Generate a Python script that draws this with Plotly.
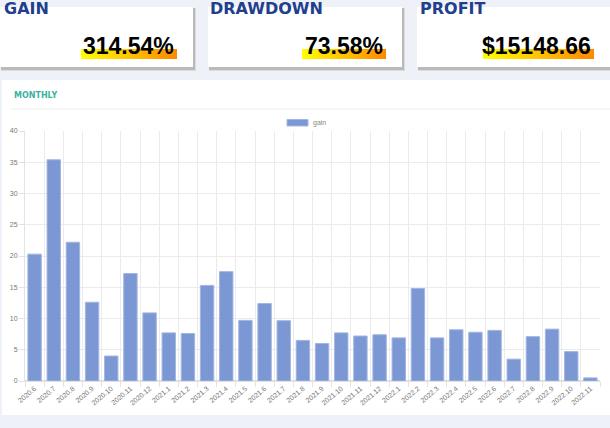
import base64
import plotly.graph_objects as go

months = ["2020.6", "2020.7", "2020.8", "2020.9", "2020.10", "2020.11", "2020.12",
          "2021.1", "2021.2", "2021.3", "2021.4", "2021.5", "2021.6", "2021.7",
          "2021.8", "2021.9", "2021.10", "2021.11", "2021.12",
          "2022.1", "2022.2", "2022.3", "2022.4", "2022.5", "2022.6", "2022.7",
          "2022.8", "2022.9", "2022.10", "2022.11"]
gain = [20.3, 35.4, 22.2, 12.6, 4.0, 17.2, 10.9,
        7.7, 7.6, 15.3, 17.5, 9.7, 12.4, 9.65,
        6.5, 6.0, 7.7, 7.2, 7.4,
        6.9, 14.8, 6.9, 8.2, 7.8, 8.1, 3.5,
        7.1, 8.3, 4.7, 0.5]

card_titles = ["GAIN", "DRAWDOWN", "PROFIT"]
card_values = ["314.54%", "73.58%", "$15148.66"]

W, H = 610, 428
L, R, T, B = 25, 10, 131, 47
PW, PH = W - L - R, H - T - B


def px(x):
    return (x - L) / PW


def py(y):
    return (T + PH - y) / PH


shapes = []


def rect(x0, y0, x1, y1, color, layer="below", line=None):
    shapes.append(dict(type="rect", xref="paper", yref="paper",
                       x0=px(x0), x1=px(x1), y0=py(y1), y1=py(y0),
                       fillcolor=color, layer=layer,
                       line=dict(width=0) if line is None else line))


# chart panel
rect(2, 80, 612, 415, "#ffffff")
shapes.append(dict(type="line", xref="paper", yref="paper", x0=px(11), x1=px(612),
                   y0=py(109), y1=py(109), line=dict(color="#eeeeee", width=1), layer="below"))

cards = [(0, 193), (208, 402), (417, 625)]
for x0, x1 in cards:
    rect(x0 + 1, 8, x1 + 3, 71, "#dcdcdc")
    rect(x0 + 1, 8, x1 + 2, 70, "#b9b9b9")
    rect(x0, 7, x1, 67, "#ffffff")

# legend swatch
rect(287, 119.5, 308, 126, "#7b98d4", line=dict(color="#a3b6e2", width=1))

svg = ('<svg xmlns="http://www.w3.org/2000/svg" width="100" height="10" preserveAspectRatio="none">'
       '<defs><linearGradient id="g" x1="0" y1="0" x2="1" y2="0">'
       '<stop offset="0" stop-color="#ffff00"/><stop offset="1" stop-color="#ff8800"/>'
       '</linearGradient></defs><rect width="100" height="10" fill="url(#g)"/></svg>')
src = "data:image/svg+xml;base64," + base64.b64encode(svg.encode()).decode()

grad_boxes = [(81, 177), (302, 386), (483, 594)]
images = []
for gx0, gx1 in grad_boxes:
    images.append(dict(source=src, xref="paper", yref="paper",
                       x=px(gx0), y=py(49), sizex=px(gx1) - px(gx0), sizey=py(49) - py(59),
                       xanchor="left", yanchor="top", sizing="stretch", layer="above"))

annotations = []
title_x = [2, 208, 418]
for t, tx in zip(card_titles, title_x):
    annotations.append(dict(text=t, xref="paper", yref="paper", x=px(tx), y=py(8),
                            xanchor="left", yanchor="middle", showarrow=False,
                            font=dict(family="DejaVu Sans", size=16, color="#213f8c", weight="bold")))
value_x = [176, 385, 593]
for v, vx in zip(card_values, value_x):
    annotations.append(dict(text=v, xref="paper", yref="paper", x=px(vx), y=py(46),
                            xanchor="right", yanchor="middle", showarrow=False,
                            font=dict(family="Liberation Sans", size=23, color="#000000", weight="bold")))

annotations.append(dict(text="MONTHLY", xref="paper", yref="paper", x=px(12), y=py(95),
                        xanchor="left", yanchor="middle", showarrow=False,
                        font=dict(family="DejaVu Sans", size=8, color="#3bb39e", weight="bold")))
annotations.append(dict(text="gain", xref="paper", yref="paper", x=px(311), y=py(122.5),
                        xanchor="left", yanchor="middle", showarrow=False,
                        font=dict(family="Liberation Sans", size=7, color="#888888")))

fig = go.Figure()
fig.add_trace(go.Bar(x=months, y=gain, name="gain",
                     marker=dict(color="#7b98d4", line=dict(color="#a3b6e2", width=1)),
                     showlegend=False))

fig.update_layout(
    width=W, height=H,
    margin=dict(l=L, r=R, t=T, b=B, pad=0),
    paper_bgcolor="#eef1f7",
    plot_bgcolor="rgba(0,0,0,0)",
    bargap=0.3,
    shapes=shapes,
    images=images,
    annotations=annotations,
    xaxis=dict(type="category", tickson="boundaries", showgrid=True, gridcolor="#ebebeb",
               ticks="outside", ticklen=5, tickcolor="#e3e3e3", tickangle=-40,
               tickfont=dict(family="Liberation Sans", size=7, color="#777777"),
               showline=True, linecolor="#e3e3e3", mirror=False, fixedrange=True),
    yaxis=dict(range=[0, 40], dtick=5, showgrid=True, gridcolor="#ebebeb",
               zeroline=True, zerolinecolor="#dddddd",
               ticks="outside", ticklen=5, tickcolor="#e3e3e3",
               tickfont=dict(family="Liberation Sans", size=7, color="#777777"),
               showline=True, linecolor="#e3e3e3", fixedrange=True),
)

fig.write_html("out.html")
